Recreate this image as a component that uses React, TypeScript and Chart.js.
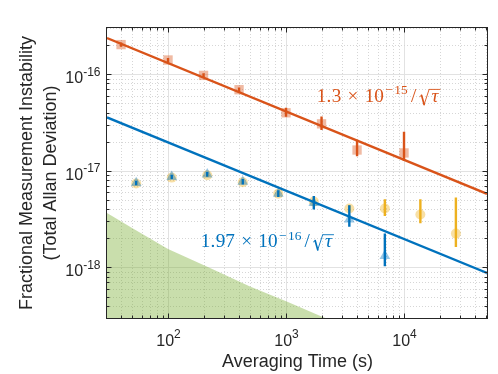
import React, { useEffect, useRef } from 'react';
import { Chart, registerables } from 'chart.js';

Chart.register(...registerables);

// ---------- data ----------
// Orange squares (τ in s, total Allan deviation)
const sqTau = [40, 100, 200, 400, 1000, 2000, 4000, 10000];
const sqVal = [2.02e-16, 1.4e-16, 9.7e-17, 6.9e-17, 3.98e-17, 3.06e-17, 1.64e-17, 1.53e-17];
const sqLo = [1.92e-16, 1.33e-16, 9.2e-17, 6.55e-17, 3.62e-17, 2.64e-17, 1.41e-17, 1.26e-17];
const sqHi = [2.12e-16, 1.47e-16, 1.02e-16, 7.25e-17, 4.49e-17, 3.64e-17, 2.1e-17, 2.53e-17];

// Blue triangles
const triTau = [53.75, 107.5, 215, 430, 860, 1720, 3440, 6880];
const triVal = [7.5e-18, 8.67e-18, 9.2e-18, 7.7e-18, 5.8e-18, 4.66e-18, 3.14e-18, 1.32e-18];
const triLo = [7.1e-18, 8.2e-18, 8.7e-18, 7.2e-18, 5.35e-18, 3.98e-18, 2.63e-18, 1.03e-18];
const triHi = [7.9e-18, 9.1e-18, 9.7e-18, 8.2e-18, 6.3e-18, 5.5e-18, 4.41e-18, 2.24e-18];

// Yellow circles
const circTau = [53.75, 107.5, 215, 430, 860, 1720, 3440, 6880, 13760, 27520];
const circVal = [7.4e-18, 8.5e-18, 9.0e-18, 7.6e-18, 5.8e-18, 4.8e-18, 4.08e-18, 4.08e-18, 3.53e-18, 2.24e-18];
const circLo = [7.1e-18, 8.2e-18, 8.7e-18, 7.3e-18, 5.5e-18, 4.5e-18, 3.8e-18, 3.4e-18, 2.86e-18, 1.63e-18];
const circHi = [7.7e-18, 8.8e-18, 9.3e-18, 7.9e-18, 6.1e-18, 5.1e-18, 4.4e-18, 5.09e-18, 5.09e-18, 5.3e-18];

// Fit lines (end points across the axis range)
const fitTau = [30.4, 50500];
const orangeFit = [2.36e-16, 5.78e-18];
const blueFit = [3.57e-17, 8.77e-19];

// Green shaded floor
const floorTau = [30.4, 50, 100, 227, 495, 1014, 2070, 3500];
const floorVal = [3.66e-18, 2.55e-18, 1.55e-18, 9.9e-19, 6.36e-19, 4.44e-19, 3.06e-19, 2.3e-19];

// Tick labels
const xTickExps = ['2', '3', '4'];
const yTickExps = ['-16', '-17', '-18'];

const orangeLabel = { mant: '1.3', exp: '15' };
const blueLabel = { mant: '1.97', exp: '16' };

// ---------- styles ----------
const ORANGE = '#D95319';
const BLUE = '#0072BD';
const YELLOW = '#EDB120';
const AXIS = '#262626';
const SANS = '"Liberation Sans", Arial, Helvetica, sans-serif';
const SERIF = '"Liberation Serif", "Times New Roman", serif';

const pts = (xs: number[], ys: number[]) => xs.map((x, i) => ({ x, y: ys[i] }));
const bars = (xs: number[], lo: number[], hi: number[]) => {
  const out: any[] = [];
  xs.forEach((x, i) => {
    out.push({ x, y: lo[i] }, { x, y: hi[i] }, { x, y: null });
  });
  return out;
};

// LaTeX-like label laid out with Computer Modern advance widths (em)
function drawFitLabel(ctx: CanvasRenderingContext2D, x0: number, base: number, mant: string, exp: string, color: string) {
  const f = 19.2;
  const s = 0.7 * f;
  ctx.save();
  ctx.fillStyle = color;
  ctx.strokeStyle = color;
  ctx.textAlign = 'center';
  ctx.textBaseline = 'alphabetic';
  let x = x0;
  const cell = (ch: string, adv: number, size: number, y: number, italic = false) => {
    ctx.font = `${italic ? 'italic ' : ''}${size}px ${SERIF}`;
    ctx.fillText(ch, x + (adv * size) / 2, y);
    x += adv * size;
  };
  for (const ch of mant) cell(ch, ch === '.' ? 0.278 : 0.5, f, base);
  x += 0.222 * f;
  cell('\u00D7', 0.778, f, base);
  x += 0.222 * f;
  cell('1', 0.5, f, base);
  cell('0', 0.5, f, base);
  const supY = base - 0.39 * f;
  cell('\u2212', 0.778, s, supY);
  for (const ch of exp) cell(ch, 0.5, s, supY);
  x += 0.05 * f;
  cell('/', 0.5, f, base);
  // radical
  const rx = x;
  const top = base - 0.64 * f;
  ctx.lineCap = 'round';
  ctx.lineJoin = 'round';
  ctx.lineWidth = 0.9;
  ctx.beginPath();
  ctx.moveTo(rx + 0.08 * f, base - 0.27 * f);
  ctx.lineTo(rx + 0.17 * f, base - 0.33 * f);
  ctx.stroke();
  ctx.lineWidth = 1.7;
  ctx.beginPath();
  ctx.moveTo(rx + 0.17 * f, base - 0.33 * f);
  ctx.lineTo(rx + 0.3 * f, base + 0.15 * f);
  ctx.stroke();
  ctx.lineWidth = 0.9;
  ctx.beginPath();
  ctx.moveTo(rx + 0.3 * f, base + 0.15 * f);
  ctx.lineTo(rx + 0.56 * f, top);
  ctx.stroke();
  x = rx + 0.6 * f;
  cell('\u03C4', 0.52, f, base, true);
  ctx.lineCap = 'butt';
  ctx.beginPath();
  ctx.moveTo(rx + 0.56 * f, top);
  ctx.lineTo(x + 0.5, top);
  ctx.stroke();
  ctx.restore();
}

const axesPlugin = {
  id: 'matlabAxes',
  beforeDraw(chart: any) {
    const { ctx, chartArea: a, scales } = chart;
    const xs = scales.x;
    const ys = scales.y;
    ctx.save();
    ctx.fillStyle = '#ffffff';
    ctx.fillRect(0, 0, chart.width, chart.height);
    ctx.lineWidth = 1;
    const style = (m: number) => {
      if (m === 1) {
        ctx.setLineDash([]);
        ctx.strokeStyle = '#e2e2e2';
      } else {
        ctx.setLineDash([1, 2]);
        ctx.strokeStyle = '#d6d6d6';
      }
    };
    for (let e = 1; e <= 5; e++) {
      for (let m = 1; m <= 9; m++) {
        const v = m * Math.pow(10, e);
        if (v < xs.min || v > xs.max) continue;
        const px = Math.round(xs.getPixelForValue(v)) + 0.5;
        ctx.beginPath();
        style(m);
        ctx.moveTo(px, a.top);
        ctx.lineTo(px, a.bottom);
        ctx.stroke();
      }
    }
    for (let e = -19; e <= -16; e++) {
      for (let m = 1; m <= 9; m++) {
        const v = m * Math.pow(10, e);
        if (v < ys.min || v > ys.max) continue;
        const py = Math.round(ys.getPixelForValue(v)) + 0.5;
        ctx.beginPath();
        style(m);
        ctx.moveTo(a.left, py);
        ctx.lineTo(a.right, py);
        ctx.stroke();
      }
    }
    ctx.restore();
  },
  afterDraw(chart: any) {
    const { ctx, chartArea: a, scales } = chart;
    const xs = scales.x;
    const ys = scales.y;
    ctx.save();
    // box
    ctx.strokeStyle = AXIS;
    ctx.lineWidth = 1;
    ctx.setLineDash([]);
    const L = Math.round(a.left) - 0.5;
    const R = Math.round(a.right) + 0.5;
    const T = Math.round(a.top) - 0.5;
    const B = Math.round(a.bottom) + 0.5;
    ctx.strokeRect(L, T, R - L, B - T);
    // ticks
    ctx.beginPath();
    for (let e = 1; e <= 5; e++) {
      for (let m = 1; m <= 9; m++) {
        const v = m * Math.pow(10, e);
        if (v <= xs.min || v >= xs.max) continue;
        const px = Math.round(xs.getPixelForValue(v)) + 0.5;
        const len = m === 1 ? 5 : 3;
        ctx.moveTo(px, B);
        ctx.lineTo(px, B - len);
        ctx.moveTo(px, T);
        ctx.lineTo(px, T + len);
      }
    }
    for (let e = -19; e <= -16; e++) {
      for (let m = 1; m <= 9; m++) {
        const v = m * Math.pow(10, e);
        if (v <= ys.min || v >= ys.max) continue;
        const py = Math.round(ys.getPixelForValue(v)) + 0.5;
        const len = m === 1 ? 5 : 3;
        ctx.moveTo(L, py);
        ctx.lineTo(L + len, py);
        ctx.moveTo(R, py);
        ctx.lineTo(R - len, py);
      }
    }
    ctx.stroke();

    // tick labels
    ctx.fillStyle = AXIS;
    ctx.textAlign = 'left';
    ctx.textBaseline = 'alphabetic';
    const baseFont = `16px ${SANS}`;
    const supFont = `12px ${SANS}`;
    xTickExps.forEach((ex) => {
      const px = xs.getPixelForValue(Math.pow(10, Number(ex)));
      ctx.font = baseFont;
      const w10 = ctx.measureText('10').width;
      ctx.font = supFont;
      const ws = ctx.measureText(ex).width;
      const sx = px - (w10 + ws) / 2 + 0.5;
      ctx.font = baseFont;
      ctx.fillText('10', sx, 345.7);
      ctx.font = supFont;
      ctx.fillText(ex, sx + w10, 345.7 - 7.6);
    });
    yTickExps.forEach((ex) => {
      const py = ys.getPixelForValue(Math.pow(10, Number(ex)));
      ctx.font = baseFont;
      const w10 = ctx.measureText('10').width;
      ctx.font = supFont;
      const ws = ctx.measureText(ex).width;
      const sx = 100.5 - w10 - ws;
      ctx.font = baseFont;
      ctx.fillText('10', sx, py + 8.8);
      ctx.font = supFont;
      ctx.fillText(ex, sx + w10, py + 8.8 - 7.4);
    });

    // axis titles
    ctx.font = `18px ${SANS}`;
    ctx.textAlign = 'center';
    ctx.fillText('Averaging Time (s)', (a.left + a.right) / 2 + 0.5, 366.5);
    const cy = (a.top + a.bottom) / 2;
    ctx.save();
    ctx.translate(31.5, cy);
    ctx.rotate(-Math.PI / 2);
    ctx.fillText('Fractional Measurement Instability', 0, 0);
    ctx.restore();
    ctx.save();
    ctx.translate(55.5, cy);
    ctx.rotate(-Math.PI / 2);
    ctx.fillText('(Total Allan Deviation)', 0, 0);
    ctx.restore();
    ctx.restore();

    drawFitLabel(ctx, 316.7, 101.7, orangeLabel.mant, orangeLabel.exp, ORANGE);
    drawFitLabel(ctx, 200.7, 247, blueLabel.mant, blueLabel.exp, BLUE);
  },
};

export default function App() {
  const ref = useRef<HTMLCanvasElement>(null);
  useEffect(() => {
    if (!ref.current) return;
    const chart = new Chart(ref.current, {
      type: 'scatter',
      data: {
        datasets: [
          {
            label: 'floor',
            data: pts(floorTau, floorVal),
            showLine: true,
            fill: 'start',
            backgroundColor: 'rgba(119,172,48,0.4)',
            borderWidth: 0,
            borderColor: 'rgba(0,0,0,0)',
            pointRadius: 0,
            order: 10,
          },
          {
            label: 'yellow',
            data: pts(circTau, circVal),
            pointStyle: 'circle',
            pointRadius: 5,
            backgroundColor: 'rgba(237,177,32,0.4)',
            borderWidth: 0,
            order: 9,
          },
          {
            label: 'blue',
            data: pts(triTau, triVal),
            pointStyle: 'triangle',
            pointRadius: 6.2,
            backgroundColor: 'rgba(0,114,189,0.4)',
            borderWidth: 0,
            order: 8,
          },
          {
            label: 'orange',
            data: pts(sqTau, sqVal),
            pointStyle: 'rect',
            pointRadius: 6.6,
            backgroundColor: 'rgba(217,83,25,0.4)',
            borderWidth: 0,
            order: 7,
          },
          {
            label: 'yellowErr',
            data: bars(circTau, circLo, circHi),
            showLine: true,
            spanGaps: false,
            borderColor: YELLOW,
            borderWidth: 2.4,
            pointRadius: 0,
            order: 6,
          },
          {
            label: 'blueErr',
            data: bars(triTau, triLo, triHi),
            showLine: true,
            spanGaps: false,
            borderColor: BLUE,
            borderWidth: 2.4,
            pointRadius: 0,
            order: 5,
          },
          {
            label: 'orangeErr',
            data: bars(sqTau, sqLo, sqHi),
            showLine: true,
            spanGaps: false,
            borderColor: ORANGE,
            borderWidth: 2.4,
            pointRadius: 0,
            order: 4,
          },
          {
            label: 'orangeFit',
            data: pts(fitTau, orangeFit),
            showLine: true,
            borderColor: ORANGE,
            borderWidth: 2.4,
            pointRadius: 0,
            order: 3,
          },
          {
            label: 'blueFit',
            data: pts(fitTau, blueFit),
            showLine: true,
            borderColor: BLUE,
            borderWidth: 2.4,
            pointRadius: 0,
            order: 2,
          },
        ],
      },
      options: {
        animation: false,
        responsive: false,
        events: [],
        layout: { padding: { left: 107, right: 11, top: 28, bottom: 56 } },
        scales: {
          x: { type: 'logarithmic', min: 30.4, max: 50500, display: false },
          y: { type: 'logarithmic', min: 3e-19, max: 3e-16, display: false },
        },
        plugins: {
          legend: { display: false },
          tooltip: { enabled: false },
        },
      },
      plugins: [axesPlugin],
    } as any);
    return () => chart.destroy();
  }, []);
  return (
    <div style={{ position: 'fixed', left: 0, top: 0, width: 498, height: 374, background: '#fff' }}>
      <canvas ref={ref} width={498} height={374} style={{ width: 498, height: 374, display: 'block' }} />
    </div>
  );
}
